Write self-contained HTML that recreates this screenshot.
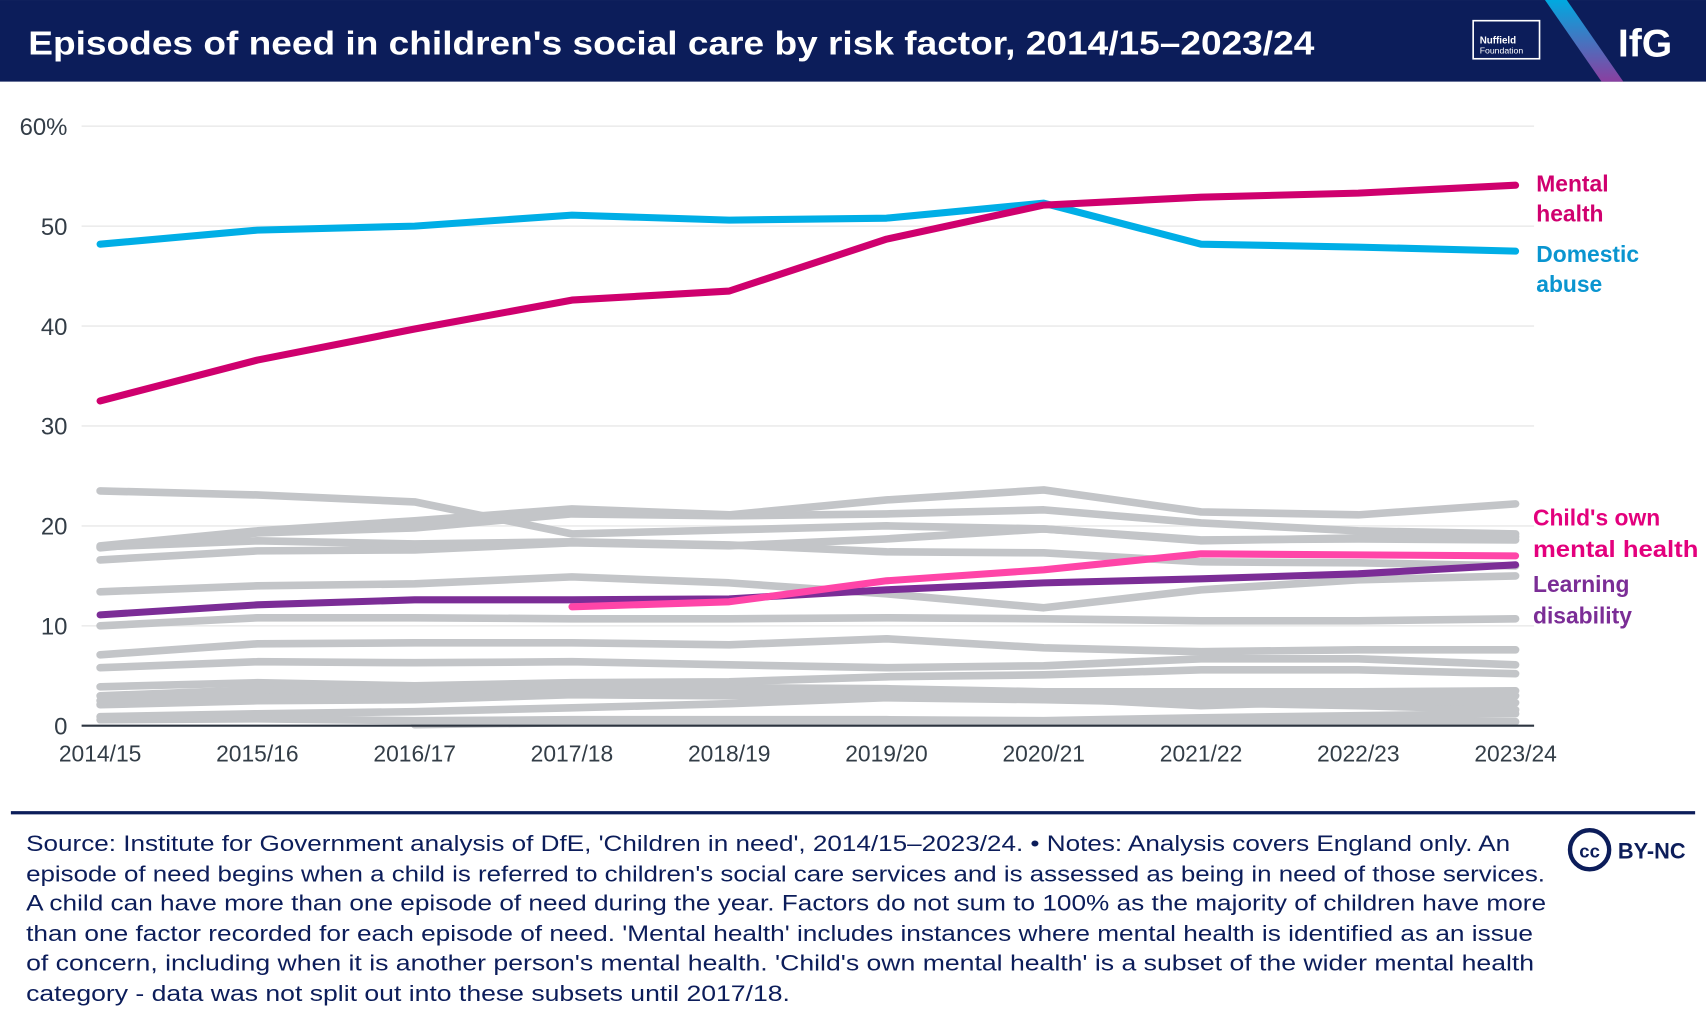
<!DOCTYPE html>
<html><head><meta charset="utf-8"><style>
html,body{margin:0;padding:0;background:#fff;}
svg{display:block;font-family:"Liberation Sans",sans-serif;}
</style></head><body>
<svg id="chart" width="1706" height="1022" viewBox="0 0 1568 939.3">
<rect x="0" y="0" width="1568" height="75" fill="#0c1d5a"/>
<text x="26" y="50" fill="#fff" font-size="31" font-weight="bold" textLength="1182" lengthAdjust="spacingAndGlyphs">Episodes of need in children's social care by risk factor, 2014/15–2023/24</text>
<g>
<rect x="1354" y="19" width="61" height="35" fill="none" stroke="#fff" stroke-width="1.5"/>
<text x="1360" y="40" fill="#fff" font-size="9" font-weight="bold">Nuffield</text>
<text x="1360" y="49" fill="#fff" font-size="8">Foundation</text>
</g>
<defs><linearGradient id="gslash" x1="0" y1="0" x2="0" y2="1"><stop offset="0" stop-color="#00a9e0"/><stop offset="1" stop-color="#8a3fa0"/></linearGradient></defs>
<polygon points="1420,0 1440,0 1492,75 1472,75" fill="url(#gslash)"/>
<text x="1487" y="52" fill="#fff" font-size="36" font-weight="bold">IfG</text>
<g id="grid"></g>
<g id="yticks"></g>
<g id="xticks"></g>
<g id="lines"></g>
<line x1="75" y1="667" x2="1410" y2="667" stroke="#2d3540" stroke-width="2"/>
<g font-weight="bold" font-size="21">
<text x="1412" y="176" fill="#d0006f"><tspan x="1412">Mental</tspan><tspan x="1412" dy="27.5">health</tspan></text>
<text x="1412" y="241" fill="#0a95d0"><tspan x="1412">Domestic</tspan><tspan x="1412" dy="27.5">abuse</tspan></text>
<text x="1409" y="483" fill="#e3007d"><tspan x="1409">Child's own</tspan><tspan x="1409" dy="29" textLength="152" lengthAdjust="spacingAndGlyphs">mental health</tspan></text>
<text x="1409" y="544" fill="#7b2d96"><tspan x="1409">Learning</tspan><tspan x="1409" dy="29">disability</tspan></text>
</g>
<line x1="10" y1="747" x2="1558" y2="747" stroke="#0c1d5a" stroke-width="3"/>
<g fill="#0c1d5a" font-size="20">
<text x="24" y="782" textLength="1364" lengthAdjust="spacingAndGlyphs">Source: Institute for Government analysis of DfE, 'Children in need', 2014/15–2023/24. • Notes: Analysis covers England only. An</text>
<text x="24" y="810" textLength="1396" lengthAdjust="spacingAndGlyphs">episode of need begins when a child is referred to children's social care services and is assessed as being in need of those services.</text>
<text x="24" y="837" textLength="1397" lengthAdjust="spacingAndGlyphs">A child can have more than one episode of need during the year. Factors do not sum to 100% as the majority of children have more</text>
<text x="24" y="865" textLength="1385" lengthAdjust="spacingAndGlyphs">than one factor recorded for each episode of need. 'Mental health' includes instances where mental health is identified as an issue</text>
<text x="24" y="892" textLength="1386" lengthAdjust="spacingAndGlyphs">of concern, including when it is another person's mental health. 'Child's own mental health' is a subset of the wider mental health</text>
<text x="24" y="920" textLength="702" lengthAdjust="spacingAndGlyphs">category - data was not split out into these subsets until 2017/18.</text>
</g>
<g>
<circle cx="1461" cy="781" r="18" fill="none" stroke="#0c1d5a" stroke-width="4"/>
<text x="1461" y="788" text-anchor="middle" font-size="17" font-weight="bold" fill="#0c1d5a">cc</text>
<text x="1487" y="789" font-size="20" font-weight="bold" fill="#0c1d5a">BY-NC</text>
</g>
</svg>
<script>
const categories=["2014/15","2015/16","2016/17","2017/18","2018/19","2019/20","2020/21","2021/22","2022/23","2023/24"];
const yTicks=[0,10,20,30,40,50,60];
const yTickLabels=["0","10","20","30","40","50","60%"];
const mentalHealth=[32.5,36.6,39.7,42.6,43.5,48.7,52.1,52.9,53.3,54.1];
const domesticAbuse=[48.2,49.6,50.0,51.1,50.6,50.8,52.3,48.2,47.9,47.5];
const childsOwnMH=[null,null,null,11.9,12.4,14.5,15.6,17.2,17.1,17.0];
const learningDisability=[11.1,12.1,12.6,12.6,12.7,13.6,14.3,14.7,15.2,16.1];
const grey1=[23.5,23.1,22.4,19.2,19.6,20.0,19.7,18.5,18.8,18.9];
const grey2=[18.0,19.5,20.5,21.7,21.1,22.6,23.6,21.4,21.1,22.2];
const grey3=[17.8,19.3,19.8,21.2,21.0,21.2,21.6,20.3,19.5,19.2];
const grey4=[17.9,18.5,18.2,18.4,18.1,17.4,17.3,16.4,16.3,16.0];
const grey5=[13.4,14.0,14.2,14.9,14.3,13.2,11.8,13.6,14.6,15.0];
const grey6=[16.6,17.5,17.6,18.3,18.0,18.7,19.7,18.6,18.7,18.6];
const grey7=[10.0,10.8,10.8,10.7,10.7,10.8,10.7,10.5,10.5,10.7];
const grey8=[7.1,8.2,8.3,8.3,8.1,8.7,7.8,7.4,7.6,7.6];
const grey9=[5.8,6.4,6.3,6.4,6.1,5.8,6.0,6.7,6.7,6.1];
const grey10=[3.9,4.3,4.0,4.3,4.4,4.9,5.1,5.6,5.6,5.2];
const grey11=[3.0,3.6,3.3,3.9,3.8,3.7,3.4,3.4,3.4,3.5];
const grey12=[2.5,3.0,2.8,3.3,3.3,3.5,3.3,2.9,3.0,3.0];
const grey13=[2.1,2.5,2.6,3.1,3.0,3.1,2.8,2.0,2.5,2.3];
const grey14=[0.9,1.2,1.4,1.8,2.2,2.8,2.6,2.3,2.0,1.6];
const grey15=[0.6,0.7,0.5,0.6,0.6,0.6,0.5,0.8,1.0,1.2];
const grey16=[null,null,0.1,0.3,0.4,0.5,0.4,0.4,0.4,0.4];

const NS="http://www.w3.org/2000/svg";
const xScale=i=>92+i*(1393-92)/(categories.length-1);
const yScale=v=>667-v*(667-116)/60;
function mk(tag,parent,attrs){const e=document.createElementNS(NS,tag);for(const k in attrs)e.setAttribute(k,attrs[k]);parent.appendChild(e);return e;}
const grid=document.getElementById('grid'),yt=document.getElementById('yticks'),xt=document.getElementById('xticks'),lines=document.getElementById('lines');
yTicks.forEach((v,i)=>{
  if(v>0){const g=mk('line',grid,{x1:75,x2:1410,y1:yScale(v),y2:yScale(v),stroke:'#ececec','stroke-width':1.5});
  
  }
  const t=mk('text',yt,{x:62,y:yScale(v)+8,'text-anchor':'end','font-size':22,fill:'#333d47'});
  
  
  t.textContent=yTickLabels[i];
});
categories.forEach((c,i)=>{
  const t=mk('text',xt,{x:xScale(i),y:700,'text-anchor':'middle','font-size':21,fill:'#333d47'});
  
  
  t.textContent=c;
});
function path(arr){let d='';arr.forEach((v,i)=>{if(v==null)return;d+=(d?'L':'M')+xScale(i).toFixed(1)+','+yScale(v).toFixed(1);});return d;}
const greys=[grey16,grey15,grey14,grey13,grey12,grey11,grey10,grey9,grey8,grey7,grey5,grey6,grey4,grey3,grey2,grey1];
greys.forEach(a=>{
  const p=mk('path',lines,{d:path(a),fill:'none',stroke:'#c3c5c8','stroke-width':7,'stroke-linecap':'round','stroke-linejoin':'round'});
  
  
});
const main=[[learningDisability,'#7b2d96','learning-disability-line'],[childsOwnMH,'#ff45a8','childs-own-mental-health-line'],[domesticAbuse,'#00aee6','domestic-abuse-line'],[mentalHealth,'#cf006e','mental-health-line']];
main.forEach(([a,c,n])=>{
  const p=mk('path',lines,{d:path(a),fill:'none',stroke:c,'stroke-width':6.5,'stroke-linecap':'round','stroke-linejoin':'round'});
  
  
});
</script>
</body></html>
